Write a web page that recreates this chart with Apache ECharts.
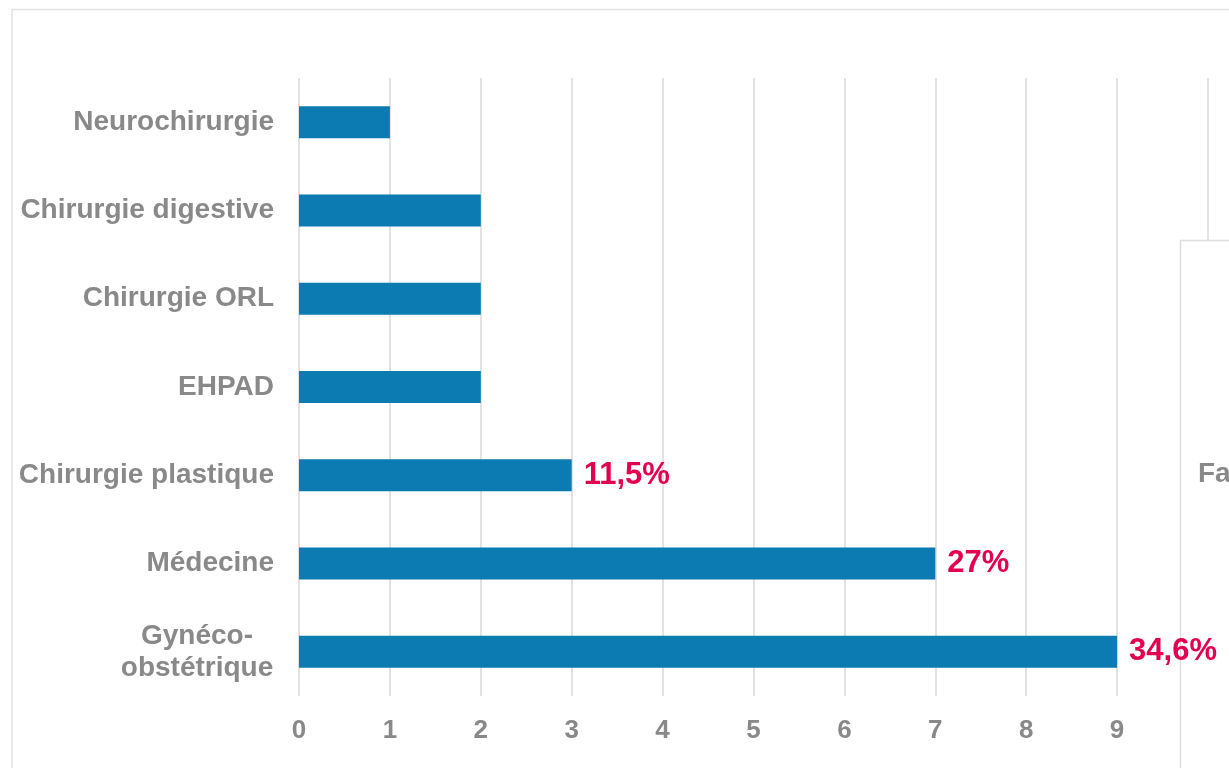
<!DOCTYPE html>
<html><head><meta charset="utf-8">
<script src="https://cdn.jsdelivr.net/npm/echarts@6/dist/echarts.min.js"></script>
<style>html,body{margin:0;padding:0;background:#fff}#c{width:1229px;height:768px}</style>
</head><body><div id="c"></div>
<script>
const categories = ['Neurochirurgie','Chirurgie digestive','Chirurgie ORL','EHPAD','Chirurgie plastique','Médecine','Gynéco-\nobstétrique'];
const values = [1,2,2,2,3,7,9];
const pctLabels = ['','','','','11,5%','27%','34,6%'];
const xTicks = [0,1,2,3,4,5,6,7,8,9,10];
const boxText = 'Fa';

const chart = echarts.init(document.getElementById('c'));
const grey = '#898989';
const ff = 'Arial, "Liberation Sans", sans-serif';
chart.setOption({
  animation:false,
  grid:{left:299,right:21,top:78,bottom:72},
  xAxis:{type:'value',min:0,max:10,interval:1,
    axisLine:{show:false},axisTick:{show:false},
    splitLine:{lineStyle:{color:'#d9d9d9',width:1.5}},
    axisLabel:{color:grey,fontSize:26,fontWeight:'bold',fontFamily:ff,margin:22,
      formatter:v=> xTicks.includes(v)? String(v):''}},
  yAxis:{type:'category',inverse:true,data:categories,
    axisLine:{show:false},axisTick:{show:false},
    axisLabel:{color:grey,fontSize:28,fontWeight:'bold',fontFamily:ff,margin:25,lineHeight:32,
      formatter:v=> v.indexOf('\n')>=0 ? v.split('\n').map(s=>'{g|'+s+'}').join('\n') : v,
      rich:{g:{width:154,align:'center',color:grey,fontSize:28,fontWeight:'bold',fontFamily:ff,lineHeight:32}}}},
  series:[{type:'bar',data:values,barWidth:32,itemStyle:{color:'#0B7BB1'},z:3,
    label:{show:true,position:'right',distance:12,color:'#E2004F',fontSize:31,fontWeight:'bold',fontFamily:ff,
      formatter:p=>pctLabels[p.dataIndex]}}],
  graphic:[
    {type:'polyline',shape:{points:[[12,768],[12,9.5],[1229,9.5]]},style:{stroke:'#e3e3e3',lineWidth:1.5,fill:null},z:-1},
    {type:'rect',shape:{x:1180.5,y:240.5,width:60,height:540},style:{fill:'#fff',stroke:'#dedede',lineWidth:1.5},z:1},
    {type:'text',left:1198,top:460,style:{text:boxText,fill:grey,font:'bold 28px Arial, "Liberation Sans", sans-serif'},z:1}
  ]
});
</script></body></html>
